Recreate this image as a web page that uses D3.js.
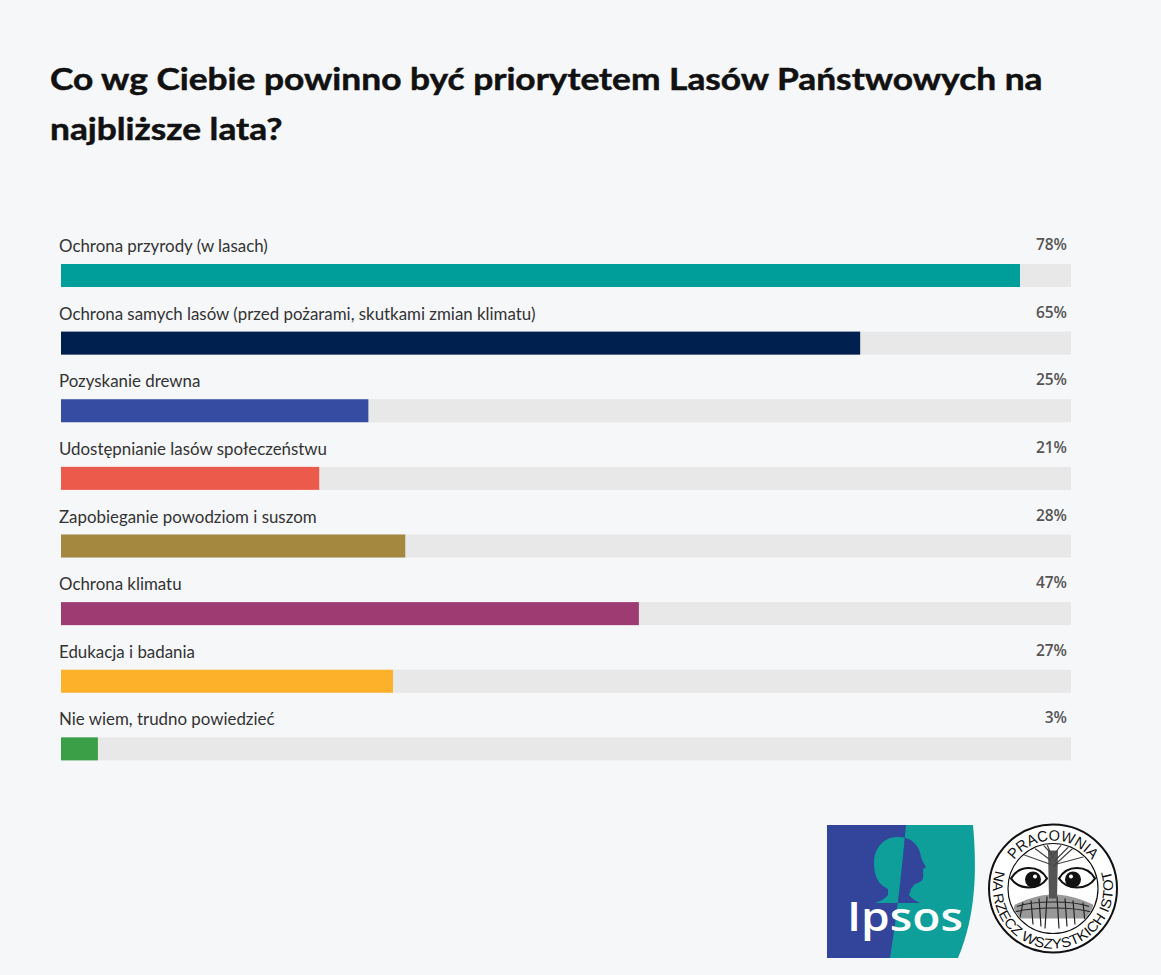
<!DOCTYPE html>
<html>
<head>
<meta charset="utf-8">
<script src="https://cdn.jsdelivr.net/npm/d3@7"></script>
<style>
  body { margin: 0; background: #f6f7f9; }
  svg { display: block; }
</style>
</head>
<body>
<div id="chart"></div>
<script>
// data
let categories = [
  "Ochrona przyrody (w lasach)",
  "Ochrona samych lasów (przed pożarami, skutkami zmian klimatu)",
  "Pozyskanie drewna",
  "Udostępnianie lasów społeczeństwu",
  "Zapobieganie powodziom i suszom",
  "Ochrona klimatu",
  "Edukacja i badania",
  "Nie wiem, trudno powiedzieć"
];
let values = [78, 65, 25, 21, 28, 47, 27, 3];
let barColors = ["#009e9a", "#00204f", "#364ca2", "#ec5a4b", "#a4883f", "#9d3b72", "#fdb12b", "#3a9f47"];
let titleLines = ["Co wg Ciebie powinno być priorytetem Lasów Państwowych na", "najbliższe lata?"];

let width = 1161, height = 975;

let svg = d3.select("#chart").append("svg")
  .attr("width", width)
  .attr("height", height);
let defs = svg.append("defs");

svg.append("rect").attr("width", width).attr("height", height).attr("fill", "#f6f7f9");

// title, condensed horizontally to the reference width
let titleG = svg.append("g");
let title = titleG.append("text")
  .style("font-family", "Lato, sans-serif")
  .style("font-weight", "700")
  .style("font-size", "30px")
  .attr("fill", "#111")
  .attr("stroke", "#111")
  .attr("stroke-width", 0.5);
title.selectAll("tspan")
  .data(titleLines)
  .enter()
  .append("tspan")
  .attr("x", 0)
  .attr("y", (d, i) => i * 50)
  .text(d => d);
let w = title.select("tspan").node().getComputedTextLength();
let sx = w > 0 ? 993 / w : 1;
titleG.attr("transform", `translate(50,90) scale(${sx},1)`);

// scales
let x = d3.scaleLinear().domain([0, 78]).range([61, 1020]);
let y = d3.scaleBand().domain(categories).range([264, 805]);
let barHeight = 23;
let trackEnd = 1071;

let rows = svg.selectAll("g.row")
  .data(categories)
  .enter()
  .append("g")
  .attr("class", "row");

rows.append("rect")
  .attr("x", x(0))
  .attr("y", d => y(d))
  .attr("width", trackEnd - x(0))
  .attr("height", barHeight)
  .attr("fill", "#e8e8e8");

rows.append("rect")
  .attr("x", x(0))
  .attr("y", d => y(d))
  .attr("width", (d, i) => x(values[i]) - x(0))
  .attr("height", barHeight)
  .attr("fill", (d, i) => barColors[i]);

let labels = rows.append("text")
  .attr("x", 59)
  .attr("y", d => y(d) - 12)
  .style("font-family", "Lato, sans-serif")
  .style("font-size", "16px")
  .attr("fill", "#333")
  .text(d => d);
// fit label size so the longest label ends where the reference does
let lw = labels.filter((d, i) => i === 1).node().getComputedTextLength();
if (lw > 0) labels.style("font-size", (16 * 477 / lw) + "px");

rows.append("text")
  .attr("x", 1067)
  .attr("y", d => y(d) - 14)
  .attr("text-anchor", "end")
  .style("font-family", "'Open Sans', sans-serif")
  .style("font-size", "15.5px")
  .style("font-weight", "600")
  .attr("fill", "#555")
  .text((d, i) => values[i] + "%");

// Ipsos logo
let ipsos = svg.append("g").attr("transform", "translate(827,825)");
defs.append("clipPath").attr("id", "ipsosLeft")
  .append("path").attr("d", "M0,0 L79,0 C75,45 70,90 63,133 L0,133 Z");
defs.append("clipPath").attr("id", "ipsosRight")
  .append("path").attr("d", "M79,0 L200,0 L200,133 L63,133 C70,90 75,45 79,0 Z");
ipsos.append("path")
  .attr("d", "M0,0 L146,0 C150,45 149,90 131,133 L0,133 Z")
  .attr("fill", "#0e9f9a");
ipsos.append("path")
  .attr("d", "M0,0 L79,0 C75,45 70,90 63,133 L0,133 Z")
  .attr("fill", "#33449b");
let headPath = "M70,12 C83,11 93,20 94,32 C95,36 98,40 99,42 L96,44 C96,48 97,52 95,55 C93,58 89,58 87,60 " +
  "L84,64 L82,70 C85,74 89,76 93,78 L48,78 C54,76 59,73 61,70 L61,64 C52,60 47,52 47,38 C47,23 57,12 70,12 Z";
ipsos.append("path").attr("d", headPath).attr("fill", "#0e9f9a").attr("clip-path", "url(#ipsosLeft)");
ipsos.append("path").attr("d", headPath).attr("fill", "#33449b").attr("clip-path", "url(#ipsosRight)");
ipsos.append("text")
  .attr("x", 20).attr("y", 106)
  .style("font-family", "'Open Sans', sans-serif")
  .style("font-weight", "600")
  .style("font-size", "39px")
  .attr("fill", "#fff")
  .attr("textLength", 116)
  .attr("lengthAdjust", "spacingAndGlyphs")
  .text("Ipsos");

// Pracownia logo
let pr = svg.append("g").attr("transform", "translate(1053,888.5)");
pr.append("circle").attr("r", 64).attr("fill", "#fff").attr("stroke", "#111").attr("stroke-width", 2);
pr.append("circle").attr("r", 45).attr("fill", "#fff").attr("stroke", "#111").attr("stroke-width", 1.2);

function polar(r, deg) {
  let a = deg * Math.PI / 180;
  return [r * Math.cos(a), r * Math.sin(a)];
}
let t0 = polar(48, 212), t1 = polar(48, 328);
defs.append("path").attr("id", "arcTop")
  .attr("d", `M${t0[0]},${t0[1]} A48,48 0 0,1 ${t1[0]},${t1[1]}`);
let b0 = polar(60, 208), b1 = polar(60, -28);
defs.append("path").attr("id", "arcBottom")
  .attr("d", `M${b0[0]},${b0[1]} A60,60 0 1,0 ${b1[0]},${b1[1]}`);

pr.append("text")
  .style("font-family", "'Liberation Sans', Arial, sans-serif").style("font-size", "15px").attr("fill", "#111")
  .append("textPath").attr("href", "#arcTop").attr("startOffset", "50%").attr("text-anchor", "middle")
  .attr("textLength", 90).attr("lengthAdjust", "spacingAndGlyphs")
  .text("PRACOWNIA");
pr.append("text")
  .style("font-family", "'Liberation Sans', Arial, sans-serif").style("font-size", "14px").attr("fill", "#111")
  .append("textPath").attr("href", "#arcBottom").attr("startOffset", "50%").attr("text-anchor", "middle")
  .attr("textLength", 225).attr("lengthAdjust", "spacingAndGlyphs")
  .text("NA RZECZ WSZYSTKICH ISTOT");

// tree inside the inner circle
defs.append("clipPath").attr("id", "inner").append("circle").attr("r", 44);
let tree = pr.append("g").attr("clip-path", "url(#inner)");
tree.append("path")
  .attr("d", "M-38,16 C-20,8 -10,6 0,6 C10,6 22,8 40,16 L44,30 L-44,30 Z")
  .attr("fill", "#999");
tree.append("path")
  .attr("d", "M-30,14 L-34,34 M-22,12 L-20,36 M-14,10 L-12,38 M-6,8 L-8,40 M4,8 L6,40 M12,10 L14,38 M20,12 L22,36 M30,14 L32,34 " +
    "M-36,18 C-20,12 20,12 36,18 M-40,24 C-20,18 20,18 40,24")
  .attr("fill", "none").attr("stroke", "#222").attr("stroke-width", 1.2);
tree.append("path")
  .attr("d", "M-5,-38 L-4,10 L4,10 L5,-38 Z")
  .attr("fill", "#555");
tree.append("path")
  .attr("d", "M-2,-28 L-18,-40 M-2,-24 L-30,-34 M0,-30 L-6,-44 M2,-28 L16,-42 M2,-24 L32,-32 M0,-22 L24,-44 M-1,-34 L-12,-46 M1,-34 L10,-46")
  .attr("fill", "none").attr("stroke", "#444").attr("stroke-width", 1.2);
// eyes
[-1, 1].forEach(function (s) {
  let cx = s * 24;
  pr.append("path")
    .attr("d", `M${cx - 18},-10 C${cx - 10},-24 ${cx + 10},-24 ${cx + 18},-10 C${cx + 10},2 ${cx - 10},2 ${cx - 18},-10 Z`)
    .attr("fill", "#fff").attr("stroke", "#111").attr("stroke-width", 2.2);
  pr.append("circle").attr("cx", cx - s * 4).attr("cy", -9).attr("r", 8).attr("fill", "#111");
  pr.append("circle").attr("cx", cx - s * 6).attr("cy", -12).attr("r", 2).attr("fill", "#fff");
});
</script>
</body>
</html>
